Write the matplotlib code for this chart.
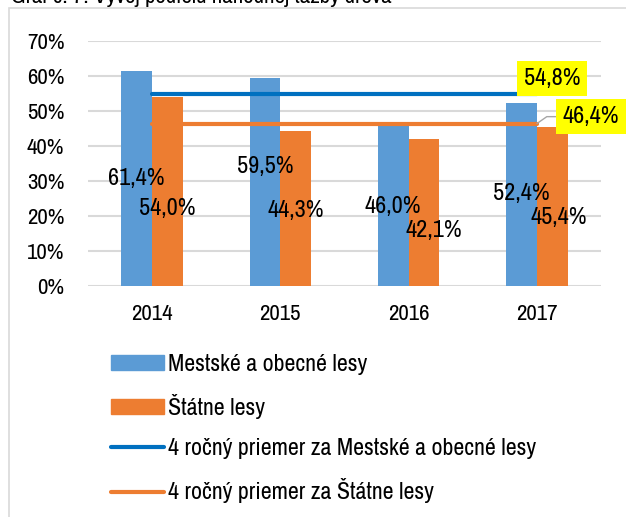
import numpy as np
import matplotlib
matplotlib.use('Agg')
import matplotlib.pyplot as plt
from matplotlib.patches import Rectangle, Patch
from matplotlib.lines import Line2D

plt.rcParams['font.family'] = ['Archivo Narrow', 'Liberation Sans', 'DejaVu Sans']

years = ['2014', '2015', '2016', '2017']
mestske = [61.4, 59.5, 46.0, 52.4]
statne = [54.0, 44.3, 42.1, 45.4]
avg_mestske = 54.8
avg_statne = 46.4
labels_legend = ['Mestské a obecné lesy', 'Štátne lesy',
                 '4 ročný priemer za Mestské a obecné lesy',
                 '4 ročný priemer za Štátne lesy']
# label heights as moved by hand in the original (in % units)
lab_y_mestske = [30.7, 34.0, 22.6, 26.4]
lab_y_statne = [22.2, 21.7, 15.8, 19.6]
lab_dx_statne = [0.0, 0.0, 0.08, 0.05]

c_blue = '#5B9BD5'
c_orange = '#ED7D31'
c_blue_line = '#0070C0'
c_grid = '#D9D9D9'

fig = plt.figure(figsize=(6.26, 5.17), dpi=100)
W, H = 626, 517

# outer frame of the chart object
fig.patches.append(Rectangle((9 / W, -0.1), 1.2, 1 - 8 / H + 0.1, transform=fig.transFigure,
                             fill=False, edgecolor=c_grid, linewidth=1.2))
# cut-off caption on top
fig.text(11 / W, 1 - 3 / H, 'Graf č. 7: Vývoj podielu náhodnej ťažby dreva',
         fontsize=16.5, va='baseline', ha='left')

ax = fig.add_axes([88 / W, 1 - 286 / H, 513 / W, 245 / H])
x = np.arange(len(years))
w = 0.24
ax.bar(x - w / 2, mestske, w, color=c_blue, zorder=2)
ax.bar(x + w / 2, statne, w, color=c_orange, zorder=2)

ax.plot([0, 3], [avg_mestske, avg_mestske], color=c_blue_line, lw=3, solid_capstyle='round', zorder=3)
ax.plot([0, 3], [avg_statne, avg_statne], color=c_orange, lw=3, solid_capstyle='round', zorder=3)

for i in range(len(years)):
    ax.text(x[i] - w / 2, lab_y_mestske[i], f'{mestske[i]:.1f}%'.replace('.', ','),
            ha='center', va='center', fontsize=17.5, zorder=5)
    ax.text(x[i] + w / 2 + lab_dx_statne[i], lab_y_statne[i], f'{statne[i]:.1f}%'.replace('.', ','),
            ha='center', va='center', fontsize=17.5, zorder=5)

ax.annotate(f'{avg_mestske:.1f}%'.replace('.', ','), xy=(3, avg_mestske), xytext=(11, 11.5),
            textcoords='offset points', ha='center', va='center', fontsize=17.5, zorder=6,
            bbox=dict(boxstyle='square,pad=0.28', fc='#FFFF00', ec='none'), annotation_clip=False)
ax.annotate(f'{avg_statne:.1f}%'.replace('.', ','), xy=(3, avg_statne), xytext=(39, 5),
            textcoords='offset points', ha='center', va='center', fontsize=17.5, zorder=6,
            bbox=dict(boxstyle='square,pad=0.28', fc='#FFFF00', ec='none'), annotation_clip=False,
            arrowprops=dict(arrowstyle='-', color='#A6A6A6', lw=1,
                            connectionstyle='angle,angleA=0,angleB=35,rad=0', shrinkA=0, shrinkB=0))

ax.set_xlim(-0.5, 3.5)
ax.set_ylim(0, 70)
ax.set_yticks(np.arange(0, 71, 10))
ax.set_yticklabels([f'{v}%' for v in range(0, 71, 10)])
ax.set_xticks(x)
ax.set_xticklabels(years)
ax.tick_params(axis='both', length=0, labelsize=16.5)
ax.tick_params(axis='y', pad=17)
ax.tick_params(axis='x', pad=13)
ax.grid(axis='y', color=c_grid, lw=1.5, zorder=0)
ax.set_axisbelow(True)
for s in ax.spines.values():
    s.set_visible(False)

handles = [Patch(color=c_blue), Patch(color=c_orange),
           Line2D([0], [0], color=c_blue_line, lw=3, solid_capstyle='round'),
           Line2D([0], [0], color=c_orange, lw=3, solid_capstyle='round')]
fig.legend(handles, labels_legend, loc='upper left', bbox_to_anchor=(111 / W, 1 - 354 / H),
           frameon=False, fontsize=17.2, handlelength=2.2, handleheight=0.55, handletextpad=0.17,
           labelspacing=0.8, borderpad=0, borderaxespad=0)

fig.savefig('out.png', dpi=100)
